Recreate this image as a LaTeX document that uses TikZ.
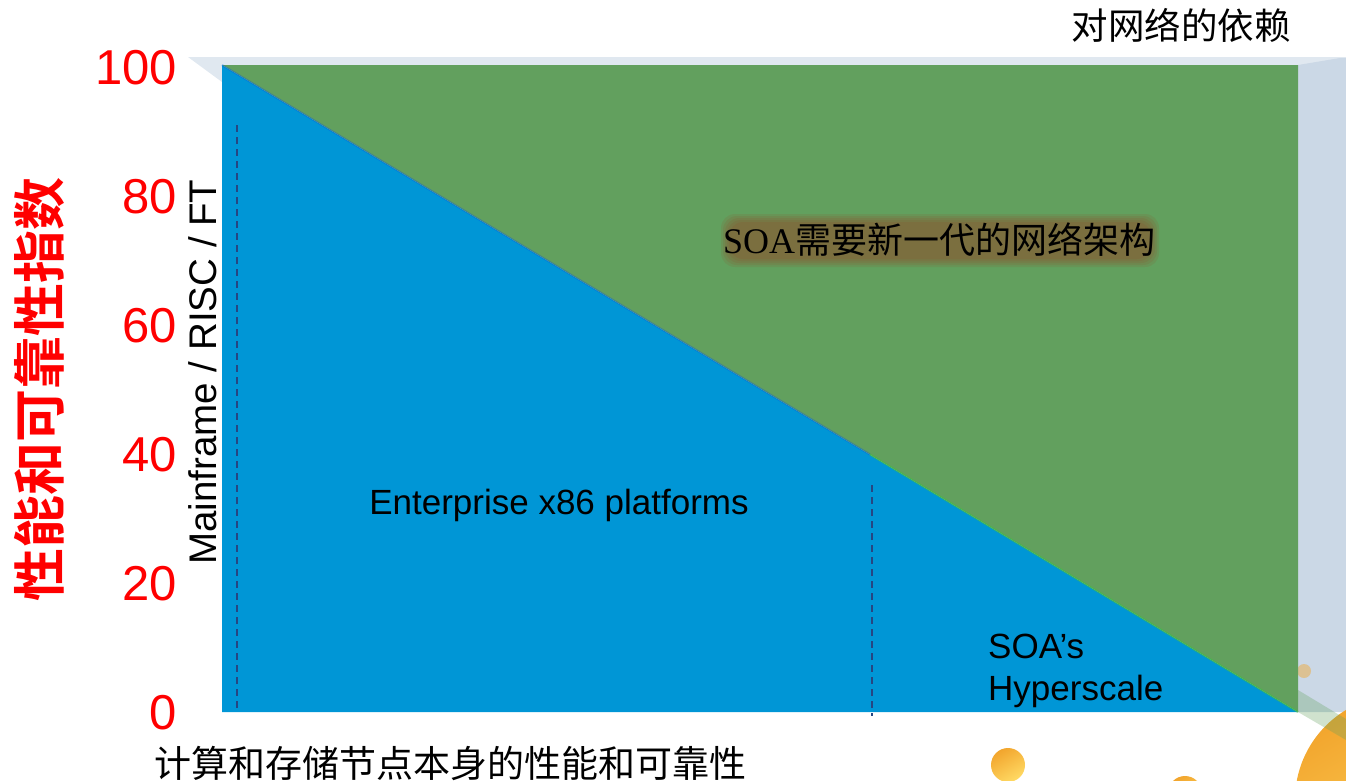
\documentclass[tikz,border=0pt]{standalone}
\usepackage{fontspec}
\usetikzlibrary{calc}
\setmainfont{Liberation Sans}
\newfontfamily\cjk[BoldFont={Noto Sans CJK SC Bold}]{Noto Sans CJK SC}
\newfontfamily\serifl{Liberation Serif}
\definecolor{plotblue}{RGB}{0,150,214}
\definecolor{plotgreen}{RGB}{98,160,94}
\definecolor{bandgray}{RGB}{203,216,230}
\definecolor{dashblue}{RGB}{38,70,130}
\definecolor{glow}{RGB}{160,55,30}
\definecolor{orangeA}{RGB}{242,165,45}
\definecolor{orangeB}{RGB}{255,218,100}
\tikzset{
  ticklab/.style={text=red,font=\fontsize{49}{50}\selectfont,anchor=east,inner sep=0pt},
  lab/.style={font=\fontsize{35}{42}\selectfont,inner sep=0pt},
  cjklab/.style={font=\cjk\fontsize{35}{40}\selectfont,inner sep=0pt},
  dashln/.style={dashblue,dashed,dash pattern=on 7pt off 5pt,line width=2.2pt},
  ballshade/.style={shading=axis,top color=orangeA,bottom color=orangeB,shading angle=30},
}
\begin{document}
\begin{tikzpicture}[x=1pt,y=-1pt]
\useasboundingbox (0,0) rectangle (1346,780);
\clip (0,0) rectangle (1346,780);
% back wall / bevel
\fill[bandgray!60] (188,57) -- (1346,57) -- (1346,65) -- (222,65) -- (222,82) -- cycle;
\fill[bandgray] (1298,65) -- (1340,58) -- (1346,58) -- (1346,712) -- (1298,712) -- cycle;
% decorative balls
\shade[ballshade] (1400,800) circle (105);
\shade[ballshade] (1008,765) circle (17);
\shade[ballshade] (1185,793) circle (17);
\fill[orangeA,opacity=0.45] (1304,671) circle (7);
% plot area
\coordinate (tl) at (222,65);
\coordinate (tr) at (1298,65);
\coordinate (br) at (1298,712);
\coordinate (bl) at (222,712);
\fill[plotblue] (tl) -- (br) -- (bl) -- cycle;
\fill[plotgreen] (tl) -- (tr) -- (br) -- cycle;
\draw[line width=2pt,color=blue!40!plotblue,opacity=0.35] (tl) -- (870,454.5);
\draw[line width=2pt,color=green!35!plotgreen,opacity=0.5] (870,454.5) -- (br);
\fill[plotgreen,opacity=0.3] (1298,690) -- (1346,719) -- (1346,740) -- (1298,712) -- cycle;
% dashed separators
\coordinate (d1a) at (237,125); \coordinate (d1b) at (237,712);
\coordinate (d2a) at (872,485); \coordinate (d2b) at (872,716);
\draw[dashln] (d1a) -- (d1b);
\draw[dashln] (d2a) -- (d2b);
% tick labels
\node[ticklab] (t100) at (177,68) {100};
\node[ticklab] (t80) at (177,197) {80};
\node[ticklab] (t60) at (177,326) {60};
\node[ticklab] (t40) at (177,455) {40};
\node[ticklab] (t20) at (177,584) {20};
\node[ticklab] (t0) at (177,713) {0};
% axis titles
\node[inner sep=0pt,rotate=90,text=red,font=\cjk\bfseries\fontsize{53}{53}\selectfont] (ytitle) at (39,389) {性能和可靠性指数};
\node[inner sep=0pt,rotate=90,font=\fontsize{38.5}{40}\selectfont] (mrf) at (203,372) {Mainframe / RISC / FT};
\node[cjklab,font=\cjk\fontsize{37}{40}\selectfont] (xtitle) at (450,763) {计算和存储节点本身的性能和可靠性};
\node[cjklab,font=\cjk\fontsize{36.5}{40}\selectfont] (ntitle) at (1181,25) {对网络的依赖};
% region labels
\node[lab] (ent) at (559,505) {Enterprise x86 platforms};
\node[lab,anchor=west,align=left] (hyp) at (988,671) {SOA’s\\Hyperscale};
% glowing title: soft halo behind the text
\foreach \r in {9,7,5,3,1}{
  \fill[glow,opacity=0.11,rounded corners=14pt] (730-\r,223-\r) rectangle (1150+\r,258+\r);
}
\node[cjklab,font=\cjk\fontsize{36}{40}\selectfont] (soa) at (939,240) {{\serifl SOA}需要新一代的网络架构};
\end{tikzpicture}
\end{document}
